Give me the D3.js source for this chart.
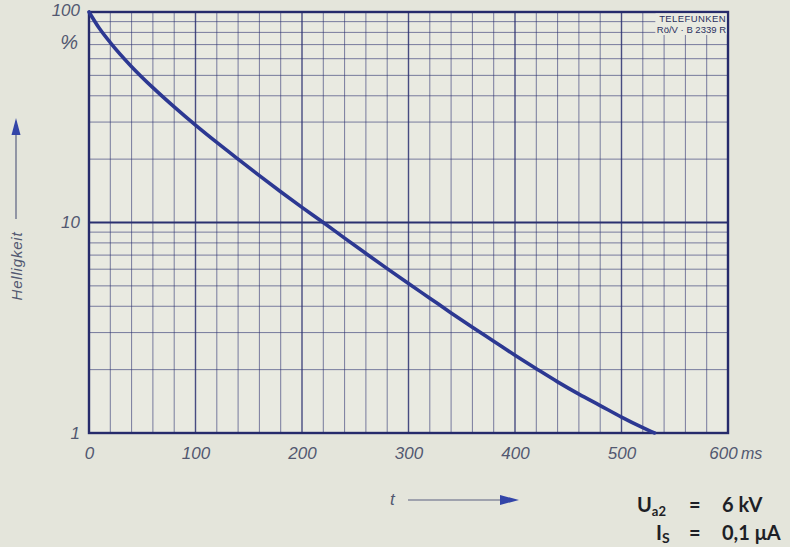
<!DOCTYPE html>
<html>
<head>
<meta charset="utf-8">
<script src="https://cdn.jsdelivr.net/npm/d3@7"></script>
<style>
  body { margin: 0; background: #e4e5db; }
  svg { display: block; }
  .lbl { font-family: "Liberation Sans Narrow", "Liberation Sans", sans-serif; font-style: italic; fill: #525870; }
  .note { font-family: Lato, "DejaVu Sans", sans-serif; font-weight: 700; fill: #1e1f26; }
</style>
</head>
<body>
<div class="chart"></div>
<script>
// decay curve (t in ms, brightness in %)
var timeMs = [0, 10, 20, 40, 60, 80, 100, 120, 140, 160, 180, 200, 220, 240, 260, 280,
  300, 320, 340, 360, 380, 400, 420, 440, 460, 480, 500, 520, 531];
var brightness = [100, 83.2, 71.6, 55.0, 43.7, 35.4, 29.0, 24.0, 20.0, 16.7, 14.0, 11.8, 10, 8.43, 7.13, 6.04,
  5.13, 4.37, 3.72, 3.18, 2.73, 2.34, 2.02, 1.75, 1.53, 1.35, 1.19, 1.06, 1.0];

var xTicks = [0, 100, 200, 300, 400, 500, 600];
var xGrid = d3.range(0, 601, 20);
var yTicks = [1, 10, 100];
var yGrid = [1, 2, 3, 4, 5, 6, 7, 8, 9, 10, 20, 30, 40, 50, 60, 70, 80, 90, 100];

var svgWidth = 790;
var svgHeight = 547;
var margin = { top: 12, right: 62, bottom: 114, left: 89 };
var chartWidth = svgWidth - margin.left - margin.right;
var chartHeight = svgHeight - margin.top - margin.bottom;

var svg = d3.select(".chart")
  .append("svg")
  .attr("width", svgWidth)
  .attr("height", svgHeight);

var chartGroup = svg.append("g")
  .attr("transform", `translate(${margin.left}, ${margin.top})`);

var xScale = d3.scaleLinear().domain([0, 600]).range([0, chartWidth]);
var yScale = d3.scaleLog().domain([1, 100]).range([chartHeight, 0]);

var ink = "#2b3070";

// plot paper a touch lighter
chartGroup.append("rect")
  .attr("width", chartWidth).attr("height", chartHeight)
  .attr("fill", "#e9eae1");

// vertical grid every 20 ms
chartGroup.selectAll(".vgrid")
  .data(xGrid)
  .enter()
  .append("line")
  .attr("class", "vgrid")
  .attr("x1", d => xScale(d)).attr("x2", d => xScale(d))
  .attr("y1", d => d > 530 && d < 600 ? 23 : 0)
  .attr("y2", chartHeight)
  .attr("stroke", ink)
  .attr("stroke-opacity", d => d % 100 === 0 ? 0.85 : 0.6)
  .attr("stroke-width", d => d % 100 === 0 ? 1.4 : 1);

// horizontal grid 1..10, 10..100
chartGroup.selectAll(".hgrid")
  .data(yGrid)
  .enter()
  .append("line")
  .attr("class", "hgrid")
  .attr("x1", 0)
  .attr("x2", d => d >= 80 && d < 100 ? xScale(532) : chartWidth)
  .attr("y1", d => yScale(d)).attr("y2", d => yScale(d))
  .attr("stroke", ink)
  .attr("stroke-opacity", d => d === 10 ? 1 : 0.6)
  .attr("stroke-width", d => d === 10 ? 2.2 : 1);

// frame
chartGroup.append("rect")
  .attr("width", chartWidth).attr("height", chartHeight)
  .attr("fill", "none")
  .attr("stroke", "#262b6b")
  .attr("stroke-width", 2.4);

// maker's stamp in the corner
var stamp = chartGroup.append("g");
stamp.append("rect")
  .attr("x", xScale(532)).attr("y", 1.5)
  .attr("width", chartWidth - xScale(532) - 1.5).attr("height", 21)
  .attr("fill", "#e9eae1");
stamp.append("text")
  .attr("x", chartWidth - 2).attr("y", 10)
  .attr("text-anchor", "end")
  .attr("font-family", "Liberation Sans Narrow, sans-serif")
  .attr("font-size", 9.5)
  .attr("letter-spacing", 0.4)
  .attr("fill", "#2a2f5e")
  .text("TELEFUNKEN");
stamp.append("text")
  .attr("x", chartWidth - 2).attr("y", 20.5)
  .attr("text-anchor", "end")
  .attr("font-family", "Liberation Sans Narrow, sans-serif")
  .attr("font-size", 9.5)
  .attr("fill", "#2a2f5e")
  .text("Rö/V · B 2339 R");

// the decay curve
var line = d3.line()
  .x((d, i) => xScale(timeMs[i]))
  .y(d => yScale(d))
  .curve(d3.curveMonotoneX);

chartGroup.append("path")
  .datum(brightness)
  .attr("d", line)
  .attr("fill", "none")
  .attr("stroke", "#2c3892")
  .attr("stroke-width", 3.6)
  .attr("stroke-linecap", "round");

// x axis labels
var bottomAxis = d3.axisBottom(xScale)
  .tickValues(xTicks)
  .tickSize(0)
  .tickPadding(14)
  .tickFormat(d3.format("d"));
var xAxis = chartGroup.append("g")
  .attr("transform", `translate(0, ${chartHeight})`)
  .call(bottomAxis);
xAxis.select(".domain").remove();
xAxis.selectAll("text")
  .attr("class", "lbl")
  .attr("font-size", 17)
  .attr("fill", null)
  .attr("dx", d => d === 600 ? -5 : 0);

chartGroup.append("text")
  .attr("class", "lbl")
  .attr("x", xScale(600) + 13).attr("y", chartHeight + 26)
  .attr("font-size", 16)
  .text("ms");

// y axis labels
var leftAxis = d3.axisLeft(yScale)
  .tickValues(yTicks)
  .tickSize(0)
  .tickPadding(9)
  .tickFormat(d3.format("d"));
var yAxis = chartGroup.append("g").call(leftAxis);
yAxis.select(".domain").remove();
yAxis.selectAll("text")
  .attr("class", "lbl")
  .attr("font-size", 17)
  .attr("fill", null)
  .attr("dy", d => d === 100 ? "0.2em" : "0.32em");

chartGroup.append("text")
  .attr("class", "lbl")
  .attr("x", -11).attr("y", 37)
  .attr("text-anchor", "end")
  .attr("font-size", 20)
  .text("%");

// y axis title with arrow
svg.append("text")
  .attr("class", "lbl")
  .attr("transform", "translate(22, 266) rotate(-90)")
  .attr("text-anchor", "middle")
  .attr("font-size", 15)
  .attr("letter-spacing", 0.8)
  .attr("fill", "#44508a")
  .text("Helligkeit");
svg.append("line")
  .attr("x1", 16).attr("x2", 16).attr("y1", 219).attr("y2", 132)
  .attr("stroke", "#5a6080").attr("stroke-width", 1.2);
svg.append("path")
  .attr("d", "M16,118 L11.5,135 L20.5,135 Z")
  .attr("fill", "#3345a8");

// x axis title with arrow
svg.append("text")
  .attr("class", "lbl")
  .attr("x", 390).attr("y", 505)
  .attr("font-size", 17)
  .text("t");
svg.append("line")
  .attr("x1", 408).attr("x2", 503).attr("y1", 500).attr("y2", 500)
  .attr("stroke", "#5a6080").attr("stroke-width", 1.2);
svg.append("path")
  .attr("d", "M519,500 L500,495 L500,505 Z")
  .attr("fill", "#3345a8");

// operating conditions
var n1 = svg.append("text").attr("class", "note").attr("y", 512).attr("font-size", 20);
n1.append("tspan").attr("x", 637).text("U");
n1.append("tspan").attr("font-size", 13).attr("dy", 4).text("a2");
n1.append("tspan").attr("x", 689).attr("dy", -4).text("=");
n1.append("tspan").attr("x", 722).text("6 kV");

var n2 = svg.append("text").attr("class", "note").attr("y", 540).attr("font-size", 20);
n2.append("tspan").attr("x", 656).text("I");
n2.append("tspan").attr("font-size", 14).attr("dy", 3).text("S");
n2.append("tspan").attr("x", 689).attr("dy", -3).text("=");
n2.append("tspan").attr("x", 722).text("0,1 μA");
</script>
</body>
</html>
